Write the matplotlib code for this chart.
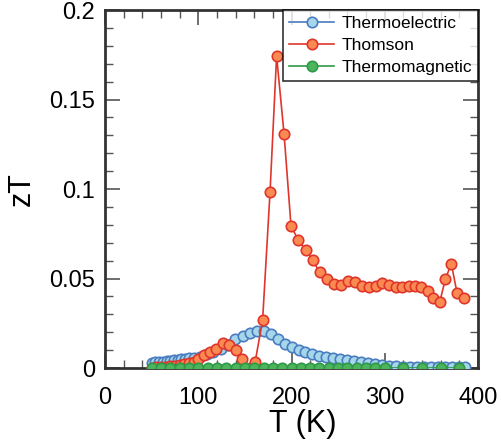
import matplotlib
matplotlib.use("Agg")
import matplotlib.pyplot as plt
from matplotlib.ticker import MultipleLocator

plt.rcParams['font.family'] = ['Liberation Sans', 'DejaVu Sans']

# Thermoelectric (blue)
T_te = [50, 54, 58, 62, 66, 70, 74, 78, 82, 86, 90, 95, 102, 109, 116, 124, 132,
        139.5, 147.5, 155, 162.5, 170, 177.5, 185, 192.5, 200, 207.5, 215, 222.5,
        230, 237.5, 245, 252.5, 260, 267.5, 275, 282.5, 290, 297.5, 305, 312.5,
        320, 327.5, 335, 342.5, 350, 357.5, 365, 372.5, 380, 386]
zT_te = [0.0030, 0.0032, 0.0034, 0.0036, 0.0038, 0.0040, 0.0042, 0.0045, 0.0048,
         0.0051, 0.0054, 0.0058, 0.0064, 0.0078, 0.0091, 0.0108, 0.0128,
         0.0160, 0.0180, 0.0197, 0.0207, 0.0207, 0.0188, 0.0160, 0.0134, 0.0117,
         0.0102, 0.0091, 0.0078, 0.0069, 0.0061, 0.0056, 0.0050, 0.0043, 0.0037,
         0.0032, 0.0028, 0.0022, 0.0017, 0.0013, 0.0010, 0.0008, 0.0007, 0.0006,
         0.0005, 0.0005, 0.0004, 0.0004, 0.0004, 0.0004, 0.0004]

# Thomson (red)
T_th = [50, 55, 60, 65, 70, 75, 80, 85, 90, 95, 100, 106, 112.6, 119, 126, 133,
        140, 147, 155, 161, 169, 177, 184, 192, 199.5, 207.3, 215.2, 222.7, 230.2,
        237.7, 245.2, 252.7, 260.6, 268.1, 275.3, 282.8, 290.3, 297.4, 304.6,
        311.7, 318.8, 326, 332.4, 339.2, 346.4, 352.1, 358.9, 365, 371.4, 377.5,
        385.3]
zT_th = [0.0002, 0.0003, 0.0005, 0.0007, 0.0010, 0.0013, 0.0017, 0.0022, 0.0028,
         0.0036, 0.0052, 0.0074, 0.0088, 0.0108, 0.0141, 0.0128, 0.0100, 0.0049,
         0.0000, 0.0034, 0.0267, 0.0985, 0.1743, 0.1309, 0.0792, 0.0715, 0.0659,
         0.0603, 0.0534, 0.0497, 0.0467, 0.0464, 0.0486, 0.0482, 0.0460, 0.0453,
         0.0456, 0.0473, 0.0462, 0.0451, 0.0451, 0.0458, 0.0458, 0.0451, 0.0430,
         0.0393, 0.0367, 0.0497, 0.0583, 0.0419, 0.0391]

# Thermomagnetic (green)
T_tm = [50, 60, 70, 80, 90, 100, 110, 120, 130, 140, 150, 160, 170, 180, 190,
        200, 210, 220, 230, 240, 250, 260, 270, 280, 290, 300, 320, 340, 360, 380]
zT_tm = [0.0] * len(T_tm)

x_ticks = [0, 100, 200, 300, 400]
y_ticks = [0, 0.05, 0.1, 0.15, 0.2]
y_ticklabels = ['0', '0.05', '0.1', '0.15', '0.2']

fig = plt.figure(figsize=(5.01, 4.47), dpi=100)
ax = fig.add_axes([0.2096, 0.1767, 0.7445, 0.8009])

ax.plot(T_te, zT_te, '-o', color='#4a7cc0', lw=1.2, ms=7.5,
        mfc='#a6d6ea', mec='#4a7cc0', mew=1.2, label='Thermoelectric', zorder=3)
ax.plot(T_th, zT_th, '-o', color='#e0352a', lw=1.2, ms=7.5,
        mfc='#fa8a52', mec='#e0352a', mew=1.2, label='Thomson', zorder=4)
ax.plot(T_tm, zT_tm, '-o', color='#2e9a48', lw=1.2, ms=7.5,
        mfc='#4cb45a', mec='#2e9a48', mew=1.2, label='Thermomagnetic', zorder=5)

ax.set_xlim(0, 400)
ax.set_ylim(0, 0.2)
ax.set_xticks(x_ticks)
ax.set_yticks(y_ticks)
ax.set_yticklabels(y_ticklabels)
ax.xaxis.set_minor_locator(MultipleLocator(20))
ax.yaxis.set_minor_locator(MultipleLocator(0.01))
ax.tick_params(which='both', direction='in', top=True, right=True,
               labelsize=17, color='#555555')
ax.tick_params(which='major', length=11, width=1.2)
ax.tick_params(axis='x', which='major', pad=14)
ax.tick_params(axis='y', which='major', pad=7)
ax.tick_params(which='minor', length=5.5, width=1.0)
for s in ax.spines.values():
    s.set_linewidth(2)
    s.set_color('#333333')

ax.set_xlabel('T (K)', fontsize=22, labelpad=0)
ax.xaxis.label.set_x(0.53)
ax.set_ylabel('zT', fontsize=22, labelpad=9)

leg = ax.legend(loc='upper right', fontsize=12.5, frameon=True, fancybox=False,
                edgecolor='black', borderaxespad=0, handlelength=2.6,
                handletextpad=0.4, borderpad=0.35, labelspacing=0.38)
leg.get_frame().set_linewidth(1.2)

fig.savefig('out.png', dpi=100)
